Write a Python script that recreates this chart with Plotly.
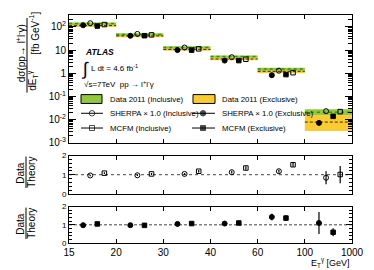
import plotly.graph_objects as go

# ---------------- data ----------------
bin_labels = ["15", "20", "30", "40", "60", "100", "1000"]

data_incl = [138, 47.0, 12.9, 5.2, 1.50, 0.0206]
data_incl_lo = [121, 41.5, 11.3, 4.6, 1.29, 0.0155]
data_incl_hi = [154, 52.5, 14.4, 5.8, 1.72, 0.0280]

data_excl = [113, 40.5, 10.6, 4.1, 1.20, 0.0078]
data_excl_lo = [99, 35.5, 9.3, 3.6, 1.00, 0.0032]
data_excl_hi = [124, 45.0, 11.8, 4.6, 1.40, 0.0155]

sherpa_incl = [143, 49.5, 12.8, 4.9, 1.28, 0.023]
sherpa_excl = [117, 41.0, 9.9, 3.5, 0.82, 0.0072]
mcfm_incl = [125, 45.0, 11.2, 4.0, 1.05, 0.022]
mcfm_excl = [108, 41.5, 9.9, 3.5, 0.87, 0.0138]

ratio_sherpa_incl = [0.96, 0.97, 1.04, 1.13, 1.18, 0.84]
ratio_sherpa_incl_err = [0.04, 0.04, 0.05, 0.07, 0.08, 0.34]
ratio_mcfm_incl = [1.08, 1.04, 1.18, 1.35, 1.52, 1.01]
ratio_mcfm_incl_err = [0.05, 0.05, 0.06, 0.09, 0.11, 0.45]
ratio_sherpa_excl = [0.98, 0.98, 1.05, 1.07, 1.43, 1.10]
ratio_sherpa_excl_err = [0.04, 0.04, 0.05, 0.10, 0.18, 0.60]
ratio_mcfm_excl = [1.05, 0.97, 1.07, 1.10, 1.37, 0.59]
ratio_mcfm_excl_err = [0.04, 0.04, 0.05, 0.10, 0.15, 0.22]

# marker offsets within a bin
off_sherpa_excl, off_sherpa_incl, off_mcfm_excl, off_mcfm_incl = 0.30, 0.45, 0.60, 0.75

GREEN = "#92c83e"
GREEN_LINE = "#3f8a10"
YELLOW = "#fdca30"
FONT = "Liberation Sans"

nb = len(data_incl)
OFF = 8  # default page body margin
W, H = 374 - OFF, 270 - OFF
ML, MT = 69 - OFF, 11 - OFF
MR, MB = 22, 27
PW, PH = W - ML - MR, H - MT - MB


def fx(px):  # reference window pixel -> paper
    return (px - OFF - ML) / PW


def fy(py):
    return (H - MB - (py - OFF)) / PH


fig = go.Figure()

# ---------- data boxes ----------
for i in range(nb):
    fig.add_trace(go.Scatter(x=[i, i + 1, i + 1, i, i],
                             y=[data_excl_lo[i], data_excl_lo[i], data_excl_hi[i], data_excl_hi[i], data_excl_lo[i]],
                             fill="toself", fillcolor=YELLOW, line=dict(width=0), mode="lines",
                             hoverinfo="skip", showlegend=False, xaxis="x", yaxis="y"))
for i in range(nb):
    fig.add_trace(go.Scatter(x=[i, i + 1, i + 1, i, i],
                             y=[data_incl_lo[i], data_incl_lo[i], data_incl_hi[i], data_incl_hi[i], data_incl_lo[i]],
                             fill="toself", fillcolor=GREEN, line=dict(width=0), mode="lines",
                             hoverinfo="skip", showlegend=False, xaxis="x", yaxis="y"))
for i in range(nb):
    fig.add_trace(go.Scatter(x=[i, i + 1], y=[data_incl[i]] * 2, mode="lines",
                             line=dict(color=GREEN_LINE, width=1.5, dash="dot"),
                             hoverinfo="skip", showlegend=False, xaxis="x", yaxis="y"))
    fig.add_trace(go.Scatter(x=[i, i + 1], y=[data_excl[i]] * 2, mode="lines",
                             line=dict(color="#333300", width=1, dash="3px,2px"),
                             hoverinfo="skip", showlegend=False, xaxis="x", yaxis="y"))

idx = list(range(nb))


def pts(offset, yv, symbol, size, xa, ya, err=None):
    tr = dict(x=[i + offset for i in idx], y=yv, mode="markers",
              marker=dict(symbol=symbol, size=size, color="black",
                          line=dict(color="black", width=1)),
              hoverinfo="skip", showlegend=False, xaxis=xa, yaxis=ya)
    if err is not None:
        tr["error_y"] = dict(type="data", array=err, visible=True, color="black",
                             thickness=1.2, width=0)
    fig.add_trace(go.Scatter(**tr))


pts(off_sherpa_excl, sherpa_excl, "circle", 5, "x", "y")
pts(off_sherpa_incl, sherpa_incl, "circle-open", 5, "x", "y")
pts(off_mcfm_excl, mcfm_excl, "square", 4.5, "x", "y")
pts(off_mcfm_incl, mcfm_incl, "square-open", 4.5, "x", "y")

# ratio panels
for xa, ya, dash in [("x2", "y2", "dot"), ("x3", "y3", "3px,2px")]:
    fig.add_trace(go.Scatter(x=[0, nb], y=[1, 1], mode="lines",
                             line=dict(color="#444", width=1, dash=dash),
                             hoverinfo="skip", showlegend=False, xaxis=xa, yaxis=ya))

pts(off_sherpa_incl, ratio_sherpa_incl, "circle-open", 5, "x2", "y2", ratio_sherpa_incl_err)
pts(off_mcfm_incl, ratio_mcfm_incl, "square-open", 4.5, "x2", "y2", ratio_mcfm_incl_err)
pts(off_sherpa_excl, ratio_sherpa_excl, "circle", 5, "x3", "y3", ratio_sherpa_excl_err)
pts(off_mcfm_excl, ratio_mcfm_excl, "square", 4.5, "x3", "y3", ratio_mcfm_excl_err)

# ---------- legend (overlay axis in reference-pixel units) ----------
leg_rows = [96, 111, 126]
fig.add_trace(go.Scatter(x=[92, 203, 92, 203], y=[leg_rows[1], leg_rows[1], leg_rows[2], leg_rows[2]],
                         mode="markers",
                         marker=dict(symbol=["circle-open", "circle", "square-open", "square"],
                                     size=[5.5, 5.5, 5, 5], color="black", line=dict(color="black", width=1)),
                         hoverinfo="skip", showlegend=False, xaxis="x4", yaxis="y4"))

shapes = []
shapes.append(dict(type="rect", xref="paper", yref="paper", x0=fx(81), x1=fx(102), y0=fy(101), y1=fy(92),
                   fillcolor=GREEN, line=dict(color="black", width=1)))
shapes.append(dict(type="rect", xref="paper", yref="paper", x0=fx(193), x1=fx(215), y0=fy(101), y1=fy(92),
                   fillcolor=YELLOW, line=dict(color="black", width=1)))
for xl, xr in [(81, 103), (192, 215)]:
    for r in leg_rows[1:]:
        shapes.append(dict(type="line", xref="paper", yref="paper", x0=fx(xl), x1=fx(xr), y0=fy(r), y1=fy(r),
                           line=dict(color="black", width=1)))
# y-title fraction bars
shapes.append(dict(type="line", xref="paper", yref="paper", x0=fx(27), x1=fx(27), y0=fy(90), y1=fy(14),
                   line=dict(color="black", width=1)))
for cy in [171, 223]:
    shapes.append(dict(type="line", xref="paper", yref="paper", x0=fx(26), x1=fx(26), y0=fy(cy + 16), y1=fy(cy - 16),
                       line=dict(color="black", width=1)))

ann = []


def txt(px, py, s, size=8, xanchor="left", angle=0):
    ann.append(dict(x=fx(px), y=fy(py), xref="paper", yref="paper", text=s, showarrow=False,
                    xanchor=xanchor, yanchor="middle", textangle=angle,
                    font=dict(family=FONT, size=size, color="black")))


txt(108, 96.5, "Data 2011 (Inclusive)", 7.8)
txt(108, 111.5, "SHERPA × 1.0 (Inclusive)", 7.8)
txt(108, 126.5, "MCFM (Inclusive)", 7.8)
txt(220, 96.5, "Data 2011 (Exclusive)", 7.8)
txt(220, 111.5, "SHERPA × 1.0 (Exclusive)", 7.8)
txt(220, 126.5, "MCFM (Exclusive)", 7.8)

txt(83, 49, "<b><i>ATLAS</i></b>", 8.5)
txt(79, 66, "∫", 18)
txt(89, 64.5, "L dt = 4.6 fb<sup>-1</sup>", 8)
txt(82, 81, "√s=7TeV  pp → l<sup>+</sup>l<sup>-</sup>γ", 8)

# y titles
txt(21, 50, "dσ(pp→ l<sup>+</sup>l<sup>-</sup>γ)", 10, xanchor="center", angle=-90)
txt(33, 78, "dE<sub>T</sub><sup>γ</sup>", 10, xanchor="center", angle=-90)
txt(34, 30, "[fb GeV<sup>-1</sup>]", 10, xanchor="center", angle=-90)
for cy in [171, 223]:
    txt(20.5, cy + 1, "Data", 10, xanchor="center", angle=-90)
    txt(31.5, cy, "Theory", 10, xanchor="center", angle=-90)

# x title
txt(352, 263, "E<sub>T</sub><sup>γ</sup> [GeV]", 9, xanchor="right")

# ---------- axes ----------
main_dom = [fy(141), 1.0]
r1_dom = [fy(193), fy(154)]
r2_dom = [0.0, fy(206)]

tickfont = dict(family=FONT, size=10, color="black")
xcommon = dict(range=[0, nb], tickvals=list(range(nb + 1)), ticks="inside", ticklen=4, mirror="allticks",
               showline=True, linecolor="black", linewidth=1, showgrid=False, zeroline=False, tickcolor="black",
               fixedrange=True)

minor_log = []
for e in range(-3, 3):
    for m in range(2, 10):
        minor_log.append(m * 10 ** e)

layout = dict(
    width=W, height=H, margin=dict(l=ML, r=MR, t=MT, b=MB),
    paper_bgcolor="white", plot_bgcolor="white", showlegend=False,
    xaxis=dict(domain=[0, 1], anchor="y", showticklabels=False, **xcommon),
    xaxis2=dict(domain=[0, 1], anchor="y2", showticklabels=False, **xcommon),
    xaxis3=dict(domain=[0, 1], anchor="y3", showticklabels=True, ticktext=bin_labels,
                tickfont=tickfont, **xcommon),
    yaxis=dict(domain=main_dom, anchor="x", type="log", range=[-3, 2.51],
               tickvals=[1e-3, 1e-2, 1e-1, 1, 10, 100],
               ticktext=["10<sup>-3</sup>", "10<sup>-2</sup>", "10<sup>-1</sup>", "1", "10", "10<sup>2</sup>"],
               tickfont=tickfont, ticks="inside", ticklen=7, mirror="allticks", showline=True,
               linecolor="black", linewidth=1, showgrid=False, zeroline=False, tickcolor="black",
               minor=dict(tickvals=minor_log, ticks="inside", ticklen=4, tickcolor="black", showgrid=False),
               fixedrange=True),
    yaxis2=dict(domain=r1_dom, anchor="x2", range=[0, 2], tickvals=[0, 1, 2],
                tickfont=dict(family=FONT, size=8, color="black"), ticks="inside", ticklen=6,
                mirror="allticks", showline=True, linecolor="black", linewidth=1, showgrid=False,
                zeroline=False, tickcolor="black",
                minor=dict(dtick=0.2, ticks="inside", ticklen=3, tickcolor="black", showgrid=False),
                fixedrange=True),
    yaxis3=dict(domain=r2_dom, anchor="x3", range=[0, 2], tickvals=[0, 1, 2],
                tickfont=dict(family=FONT, size=8, color="black"), ticks="inside", ticklen=6,
                mirror="allticks", showline=True, linecolor="black", linewidth=1, showgrid=False,
                zeroline=False, tickcolor="black",
                minor=dict(dtick=0.2, ticks="inside", ticklen=3, tickcolor="black", showgrid=False),
                fixedrange=True),
    xaxis4=dict(domain=[0, 1], anchor="y4", overlaying="x", range=[69, 352], visible=False, fixedrange=True),
    yaxis4=dict(domain=main_dom, anchor="x4", overlaying="y", range=[141, 11], visible=False, fixedrange=True),
    shapes=shapes, annotations=ann,
)
fig.update_layout(**layout)
fig.write_html("out.html")
